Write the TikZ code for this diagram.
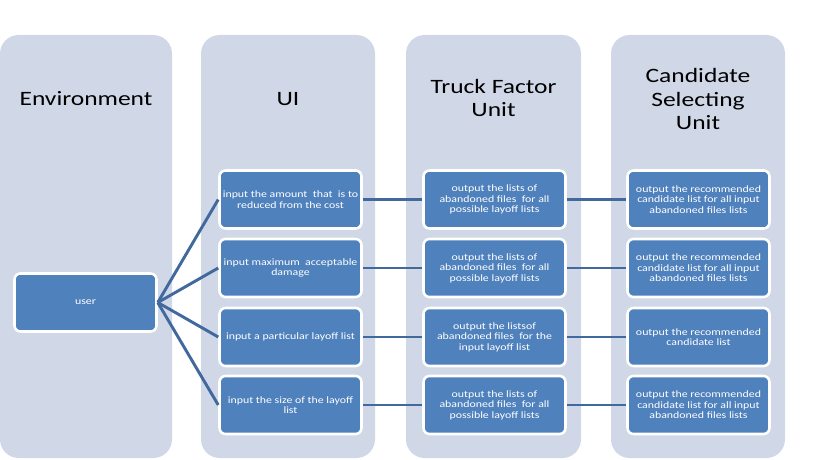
\documentclass[tikz,border=0pt]{standalone}
\usepackage{fontspec}
\setmainfont{Carlito}
\newfontfamily\titlefont[FakeStretch=1.25]{Carlito}
\newfontfamily\boxfont[FakeStretch=1.22]{Carlito}
\definecolor{colfill}{HTML}{D0D8E8}
\definecolor{boxfill}{HTML}{4F81BD}
\definecolor{linkcol}{HTML}{41699E}
\begin{document}
\begin{tikzpicture}[x=0.75pt,y=-0.75pt,
  column/.style={fill=colfill,draw=none,rounded corners=14pt},
  coltitle/.style={font=\titlefont\fontsize{15.3pt}{17.3pt}\selectfont,align=center,text=black},
  itembox/.style={fill=boxfill,draw=white,line width=1.9pt,rounded corners=4.5pt,
    minimum width=106.5pt,minimum height=43.5pt,inner sep=1pt,align=center,
    text=white,font=\boxfont\fontsize{7.3pt}{7.9pt}\selectfont},
  link/.style={draw=linkcol,line width=2.2pt}]
\useasboundingbox (0,0) rectangle (819,460);
\fill[white] (0,0) rectangle (819,460);
% columns
\path[column] (0,35) rectangle (172,458);
\path[column] (201,35) rectangle (375,458);
\path[column] (406,35) rectangle (581,458);
\path[column] (611,35) rectangle (785,458);
% titles
\node[coltitle] (tEnv) at (86,99) {Environment};
\node[coltitle] (tUI) at (288,99) {UI};
\node[coltitle] (tTF) at (493.5,98) {Truck Factor\\Unit};
\node[coltitle] (tCS) at (698,99) {Candidate\\Selecting\\Unit};
% boxes
\node[itembox] (user) at (85.5,302.5) {user};
\node[itembox] (ui1) at (290.5,199.5) {input the amount\ \ that\ \ is to\\reduced from the cost};
\node[itembox] (ui2) at (290.5,268) {input maximum\ \ acceptable\\damage};
\node[itembox] (ui3) at (290.5,337) {input a particular layoff list};
\node[itembox] (ui4) at (290.5,405) {input the size of the layoff\\list};
\node[itembox] (tf1) at (494.5,199.5) {output the lists of\\abandoned files\ \ for all\\possible layoff lists};
\node[itembox] (tf2) at (494.5,268) {output the lists of\\abandoned files\ \ for all\\possible layoff lists};
\node[itembox] (tf3) at (494.5,337) {output the listsof\\abandoned files\ \ for the\\input layoff list};
\node[itembox] (tf4) at (494.5,405) {output the lists of\\abandoned files\ \ for all\\possible layoff lists};
\node[itembox] (cs1) at (698.5,199.5) {output the recommended\\candidate list for all input\\abandoned files lists};
\node[itembox] (cs2) at (698.5,268) {output the recommended\\candidate list for all input\\abandoned files lists};
\node[itembox] (cs3) at (698.5,337) {output the recommended\\candidate list};
\node[itembox] (cs4) at (698.5,405) {output the recommended\\candidate list for all input\\abandoned files lists};
% connectors
\foreach \i in {1,2,3,4}{
  \draw[link] (user.east) -- (ui\i.west);
  \draw[link] (ui\i.east) -- (tf\i.west);
  \draw[link] (tf\i.east) -- (cs\i.west);
}
\end{tikzpicture}
\end{document}
